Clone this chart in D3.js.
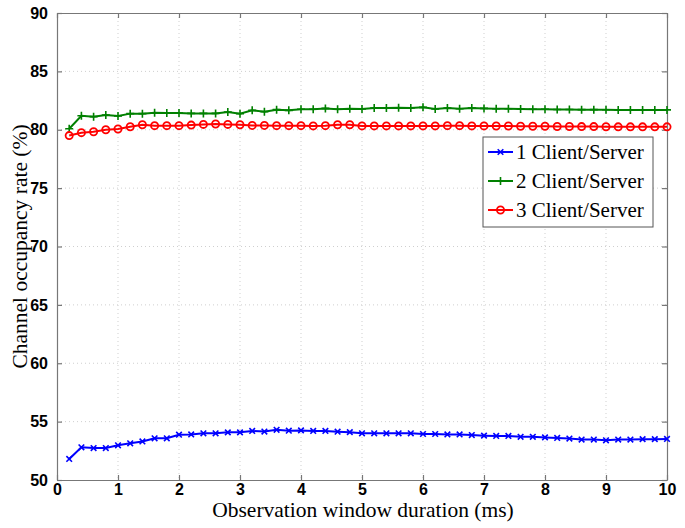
<!DOCTYPE html>
<html lang="en">
<head>
    <meta charset="UTF-8">
    <title>Channel occupancy rate</title>
    <script src="https://d3js.org/d3.v7.min.js"></script>
    <style>
        body { margin: 0; background: #fff; }
        .lbl { font-family: "Liberation Serif", "DejaVu Serif", serif; fill: #000; }
    </style>
</head>
<body>
    <script>
        // x values: 0.2 ... 10 ms (step 0.2)
        const duration = d3.range(1, 51).map(i => +(i * 0.2).toFixed(1));

        const oneCS = [51.8, 52.8, 52.74, 52.74, 52.97, 53.14, 53.3, 53.57, 53.57, 53.88,
            53.9, 54.0, 54.0, 54.08, 54.08, 54.2, 54.15, 54.3, 54.22, 54.25,
            54.2, 54.2, 54.14, 54.1, 54.0, 54.0, 54.0, 54.0, 54.0, 53.94,
            53.94, 53.9, 53.9, 53.85, 53.8, 53.77, 53.77, 53.7, 53.7, 53.65,
            53.6, 53.55, 53.46, 53.46, 53.4, 53.46, 53.46, 53.5, 53.5, 53.52];

        const twoCS = [80.09, 81.2, 81.12, 81.26, 81.18, 81.38, 81.38, 81.46, 81.43, 81.43,
            81.4, 81.4, 81.4, 81.52, 81.38, 81.66, 81.55, 81.72, 81.66, 81.75,
            81.75, 81.83, 81.75, 81.8, 81.78, 81.86, 81.86, 81.89, 81.86, 81.92,
            81.78, 81.86, 81.8, 81.86, 81.83, 81.8, 81.8, 81.78, 81.76, 81.75,
            81.74, 81.73, 81.72, 81.72, 81.71, 81.7, 81.7, 81.7, 81.7, 81.7];

        const threeCS = [79.5, 79.75, 79.83, 80.0, 80.06, 80.26, 80.43, 80.35, 80.35, 80.35,
            80.4, 80.46, 80.49, 80.46, 80.43, 80.37, 80.37, 80.35, 80.35, 80.35,
            80.33, 80.35, 80.43, 80.43, 80.33, 80.33, 80.33, 80.33, 80.33, 80.33,
            80.33, 80.35, 80.35, 80.33, 80.33, 80.32, 80.32, 80.3, 80.3, 80.3,
            80.28, 80.28, 80.27, 80.27, 80.26, 80.25, 80.25, 80.25, 80.25, 80.25];

        const xTicks = [0, 1, 2, 3, 4, 5, 6, 7, 8, 9, 10];
        const yTicks = [50, 55, 60, 65, 70, 75, 80, 85, 90];

        const series = [
            { name: "1 Client/Server", values: oneCS, color: "#0000ff", marker: "x" },
            { name: "2 Client/Server", values: twoCS, color: "#008000", marker: "+" },
            { name: "3 Client/Server", values: threeCS, color: "#ff0000", marker: "o" }
        ];

        const width = 685, height = 528;
        const margin = { left: 57, top: 13, right: 18, bottom: 48 };
        const iw = width - margin.left - margin.right;
        const ih = height - margin.top - margin.bottom;

        const svg = d3.select("body").append("svg")
            .attr("width", width)
            .attr("height", height);

        const g = svg.append("g").attr("transform", `translate(${margin.left},${margin.top})`);

        const x = d3.scaleLinear().domain([0, 10]).range([0, iw]);
        const y = d3.scaleLinear().domain([50, 90]).range([ih, 0]);

        // grid
        g.append("g").selectAll("line").data(xTicks.slice(1, -1)).join("line")
            .attr("x1", d => x(d)).attr("x2", d => x(d)).attr("y1", 0).attr("y2", ih)
            .attr("stroke", "#cfcfcf").attr("stroke-dasharray", "1,3");
        g.append("g").selectAll("line").data(yTicks.slice(1, -1)).join("line")
            .attr("y1", d => y(d)).attr("y2", d => y(d)).attr("x1", 0).attr("x2", iw)
            .attr("stroke", "#cfcfcf").attr("stroke-dasharray", "1,3");

        // axes
        const axisColor = "#777";
        const xAxis = g.append("g").attr("transform", `translate(0,${ih})`)
            .call(d3.axisBottom(x).tickValues(xTicks).tickSize(-5).tickPadding(4).tickSizeOuter(0));
        const yAxis = g.append("g")
            .call(d3.axisLeft(y).tickValues(yTicks).tickSize(-5).tickPadding(9).tickSizeOuter(0));
        const xTop = g.append("g")
            .call(d3.axisTop(x).tickValues(xTicks).tickSize(-5).tickFormat("").tickSizeOuter(0));
        const yRight = g.append("g").attr("transform", `translate(${iw},0)`)
            .call(d3.axisRight(y).tickValues(yTicks).tickSize(-5).tickFormat("").tickSizeOuter(0));
        [xAxis, yAxis, xTop, yRight].forEach(a => {
            a.selectAll(".domain, line").attr("stroke", axisColor).attr("stroke-width", 1.2);
            a.selectAll("text")
                .attr("fill", "#000")
                .style("font-family", "'Liberation Sans', Arial, sans-serif")
                .style("font-weight", "700")
                .style("font-size", "16px");
        });

        // lines and markers
        const line = d3.line().x((d, i) => x(duration[i])).y(d => y(d));
        series.forEach(s => {
            g.append("path").datum(s.values)
                .attr("d", line)
                .attr("fill", "none")
                .attr("stroke", s.color)
                .attr("stroke-width", 2);
            drawMarkers(g, s, s.values.map((v, i) => [x(duration[i]), y(v)]));
        });

        function drawMarkers(parent, s, pts) {
            const mg = parent.append("g");
            pts.forEach(([px, py]) => {
                if (s.marker === "o") {
                    mg.append("circle").attr("cx", px).attr("cy", py).attr("r", 3.6)
                        .attr("fill", "none").attr("stroke", s.color).attr("stroke-width", 1.8);
                } else if (s.marker === "+") {
                    mg.append("path").attr("d", `M${px - 4},${py}H${px + 4}M${px},${py - 4}V${py + 4}`)
                        .attr("stroke", s.color).attr("stroke-width", 1.6);
                } else {
                    mg.append("path").attr("d", `M${px - 2.8},${py - 2.8}L${px + 2.8},${py + 2.8}M${px - 2.8},${py + 2.8}L${px + 2.8},${py - 2.8}`)
                        .attr("stroke", s.color).attr("stroke-width", 1.6);
                }
            });
        }

        // legend
        const lg = g.append("g").attr("transform", "translate(426,124)");
        lg.append("rect").attr("width", 170).attr("height", 90)
            .attr("fill", "#fff").attr("stroke", "#555").attr("stroke-width", 1);
        series.forEach((s, i) => {
            const row = lg.append("g").attr("transform", `translate(0,${15 + i * 29})`);
            row.append("line").attr("x1", 5).attr("x2", 30).attr("y1", 0).attr("y2", 0)
                .attr("stroke", s.color).attr("stroke-width", 2);
            drawMarkers(row, s, [[17.5, 0]]);
            row.append("text").attr("class", "lbl").attr("x", 33).attr("y", 7)
                .style("font-size", "21px").text(s.name);
        });

        // axis titles
        svg.append("text").attr("class", "lbl")
            .attr("x", margin.left + iw / 2 + 1).attr("y", 517)
            .attr("text-anchor", "middle").style("font-size", "21.5px")
            .text("Observation window duration (ms)");
        svg.append("text").attr("class", "lbl")
            .attr("transform", `translate(27,${margin.top + ih / 2}) rotate(-90)`)
            .attr("text-anchor", "middle").style("font-size", "21.5px")
            .text("Channel occupancy rate (%)");
    </script>
</body>
</html>
